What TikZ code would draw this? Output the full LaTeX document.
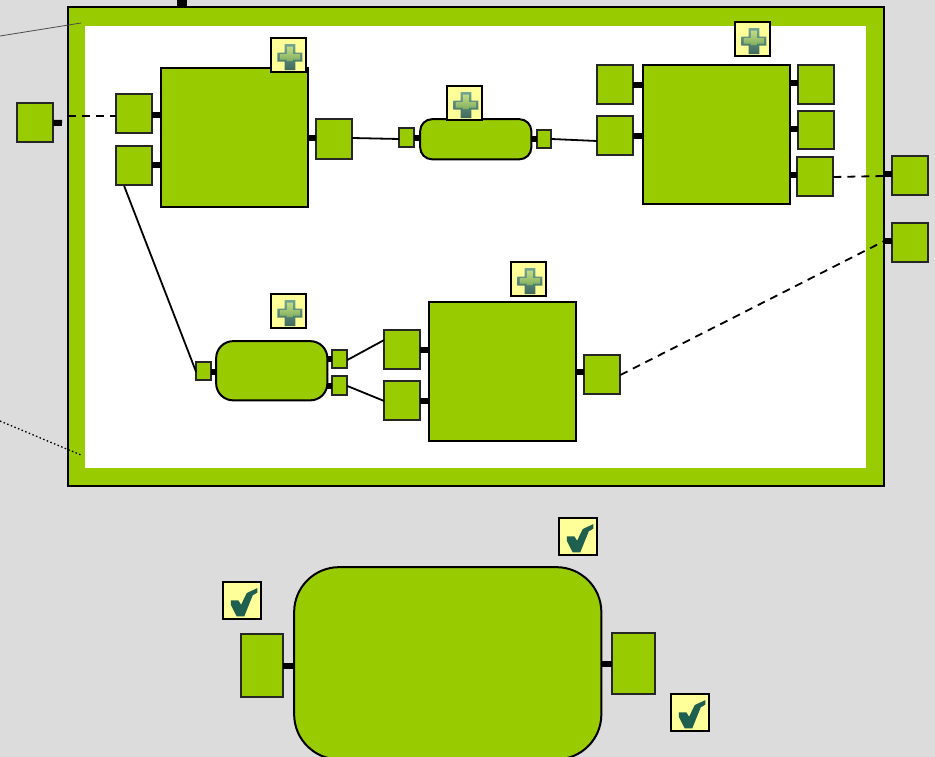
\documentclass[tikz,border=0pt]{standalone}
\usetikzlibrary{calc}
\definecolor{bgc}{HTML}{DCDCDC}
\definecolor{grn}{HTML}{99CC00}
\definecolor{icn}{HTML}{FFFF99}
\definecolor{tick}{HTML}{1F5F4F}
\definecolor{plusouttop}{HTML}{74A494}
\definecolor{plusoutbot}{HTML}{3F6B5C}
\definecolor{plusintop}{HTML}{C4DC84}
\definecolor{plusinbot}{HTML}{7FAF60}
\newcommand\rnode[6][]{%
  \pgfmathsetmacro\nodew{#5-#3-.8}\pgfmathsetmacro\nodeh{#6-#4-.8}%
  \pgfmathsetmacro\nodecx{(#5+#3)/2-.25}\pgfmathsetmacro\nodecy{(#6+#4)/2-.25}%
  \node[#1,minimum width=\nodew pt,minimum height=\nodeh pt] (#2) at (\nodecx,\nodecy) {};}
\tikzset{
  x=1pt,y=-1pt,
  pbox/.style={draw=black!85,line width=2pt,fill=grn,inner sep=0pt,outer sep=0pt},
  blkbox/.style={draw=black,line width=2pt,fill=grn,inner sep=0pt,outer sep=0pt},
  rbox/.style={blkbox,rounded corners=#1},
  icnbox/.style={draw=black,line width=2pt,fill=icn,inner sep=0pt,outer sep=0pt},
  stubline/.style={line width=6pt,black},
  link/.style={line width=1.8pt,black},
  dashlink/.style={line width=1.8pt,black,dash pattern=on 8pt off 6pt},
  plusicon/.pic={
    \path[draw=none,top color=plusouttop,bottom color=plusoutbot]
      (-5.3,-13)--(5.3,-13)--(5.3,-4.5)--(12.5,-4.5)--(12.5,4.5)--(5.3,4.5)--(5.3,13)--(-5.3,13)--(-5.3,4.5)--(-12.5,4.5)--(-12.5,-4.5)--(-5.3,-4.5)--cycle;
    \path[draw=none,top color=plusintop,bottom color=plusinbot]
      (-3,-10.5)--(3,-10.5)--(3,-3)--(10,-3)--(10,2.5)--(3,2.5)--(3,4)--(-3,4)--(-3,2.5)--(-10,2.5)--(-10,-3)--(-3,-3)--cycle;
  },
  tickicon/.pic={
    \fill[tick] (-11.5,-.3)--(-3.8,-.3)--(-1.2,4)--(4.5,-7.7)--(15.2,-12.7)--(15.2,-8.2)--(10.5,-5.5)--(2,15.7)--(-5.5,15.7)--(-11.5,4)--cycle;
  }
}
\begin{document}
\begin{tikzpicture}
\useasboundingbox (0,0) rectangle (935,757);
\clip (0,0) rectangle (935,757);
\fill[bgc] (0,0) rectangle (935,757);
% frame
\coordinate (tA) at (0,36);
\coordinate (tB) at (81,23);
\coordinate (dA) at (0,421);
\coordinate (dB) at (81,455);
\rnode[blkbox]{frame}{68}{7}{885}{487}
\fill[white] (85,26) rectangle (866,468);
\draw[line width=.8pt,black!70] (tA) -- (tB);
\draw[line width=1.3pt,black,dash pattern=on 1.5pt off 2.4pt] (dA) -- (dB);
\coordinate (topa) at (182,7);
\draw[line width=9.5pt,black] (topa) -- (182,0);
% top row
\rnode[pbox]{lp}{17}{103}{54}{143}
\rnode[pbox]{p1}{116}{94}{153}{134}
\rnode[pbox]{p2}{116}{146}{153}{186}
\rnode[blkbox]{A}{161}{68}{309}{208}
\rnode[pbox]{p3}{316}{119}{353}{160}
\rnode[pbox]{s1}{399}{128}{415}{148}
\rnode[rbox=12pt]{R1}{420}{119}{532}{160}
\rnode[pbox]{s2}{537}{130}{552}{149}
\rnode[pbox]{p4}{597}{65}{634}{105}
\rnode[pbox]{p5}{597}{116}{634}{156}
\rnode[blkbox]{B}{643}{65}{791}{205}
\rnode[pbox]{p6}{798}{65}{835}{105}
\rnode[pbox]{p7}{798}{111}{835}{150}
\rnode[pbox]{p8}{797}{157}{834}{197}
\rnode[pbox]{rp1}{892}{156}{929}{196}
\rnode[pbox]{rp2}{892}{223}{929}{263}
% lower row
\rnode[pbox]{s3}{196}{362}{212}{381}
\rnode[rbox=17pt]{R2}{216}{341}{328}{401}
\rnode[pbox]{s4}{332}{350}{348}{369}
\rnode[pbox]{s5}{332}{376}{348}{396}
\rnode[pbox]{p9}{384}{330}{421}{370}
\rnode[pbox]{p10}{384}{381}{421}{421}
\rnode[blkbox]{C}{429}{302}{577}{442}
\rnode[pbox]{p11}{584}{355}{621}{395}
% bottom
\rnode[rbox=45pt]{R3}{294}{567}{602}{760}
\rnode[pbox]{p12}{241}{634}{284}{698}
\rnode[pbox]{p13}{612}{633}{656}{695}
% stubs
\coordinate (lfree) at (62,123);
\draw[stubline] (lp.east) -- (lfree);
\draw[stubline] (p1.east |- 0,115) -- (A.west |- 0,115);
\draw[stubline] (p2.east |- 0,165) -- (A.west |- 0,165);
\draw[stubline] (A.east |- 0,138) -- (p3.west |- 0,138);
\draw[stubline] (s1.east |- 0,138) -- (R1.west |- 0,138);
\draw[stubline] (R1.east |- 0,139) -- (s2.west |- 0,139);
\draw[stubline] (p4.east |- 0,85) -- (B.west |- 0,85);
\draw[stubline] (p5.east |- 0,136) -- (B.west |- 0,136);
\draw[stubline] (B.east |- 0,83) -- (p6.west |- 0,83);
\draw[stubline] (B.east |- 0,129) -- (p7.west |- 0,129);
\draw[stubline] (B.east |- 0,175) -- (p8.west |- 0,175);
\draw[stubline] (frame.east |- 0,174) -- (rp1.west |- 0,174);
\draw[stubline] (frame.east |- 0,241) -- (rp2.west |- 0,241);
\draw[stubline] (s3.east |- 0,372) -- (R2.west |- 0,372);
\draw[stubline] (R2.east |- 0,359) -- (s4.west |- 0,359);
\draw[stubline] (R2.east |- 0,386) -- (s5.west |- 0,386);
\draw[stubline] (p9.east |- 0,350) -- (C.west |- 0,350);
\draw[stubline] (p10.east |- 0,401) -- (C.west |- 0,401);
\draw[stubline] (C.east |- 0,372) -- (p11.west |- 0,372);
\draw[line width=6pt] (p12.east |- 0,666) -- (R3.west |- 0,666);
\draw[line width=6pt] (R3.east |- 0,664) -- (p13.west |- 0,664);
% connectors
\draw[dashlink] (frame.west |- 0,116) -- (p1.west |- 0,116);
\draw[dashlink] (p8.east |- 0,177) -- (frame.east |- 0,176);
\draw[dashlink] (p11.east |- 0,375) -- (frame.east |- 0,241);
\draw[link] (p2.south west |- 0,186) ++(8,0) -- (s3.west |- 0,372);
\draw[link] (p3.east |- 0,138) -- (s1.west |- 0,139);
\draw[link] (s2.east |- 0,139) -- (p5.west |- 0,141);
\draw[link] (s4.east |- 0,360) -- (p9.west |- 0,340);
\draw[link] (s5.east |- 0,386) -- (p10.west |- 0,401);
% icons
\rnode[icnbox]{i1}{271}{38}{307}{73}
\rnode[icnbox]{i2}{447}{86}{483}{121}
\rnode[icnbox]{i3}{735}{22}{771}{57}
\rnode[icnbox]{i4}{271}{294}{307}{329}
\rnode[icnbox]{i5}{511}{262}{547}{297}
\rnode[icnbox]{i6}{223}{582}{262}{620}
\rnode[icnbox]{i7}{559}{518}{598}{556}
\rnode[icnbox]{i8}{671}{694}{710}{732}
\pic at ([shift={(1.2,1.8)}]i1.center) {plusicon};
\pic at ([shift={(1.2,1.8)}]i2.center) {plusicon};
\pic at ([shift={(1.2,1.8)}]i3.center) {plusicon};
\pic at ([shift={(1.2,1.8)}]i4.center) {plusicon};
\pic at ([shift={(1.2,1.8)}]i5.center) {plusicon};
\pic at (i6.center) {tickicon};
\pic at (i7.center) {tickicon};
\pic at (i8.center) {tickicon};
\end{tikzpicture}
\end{document}
